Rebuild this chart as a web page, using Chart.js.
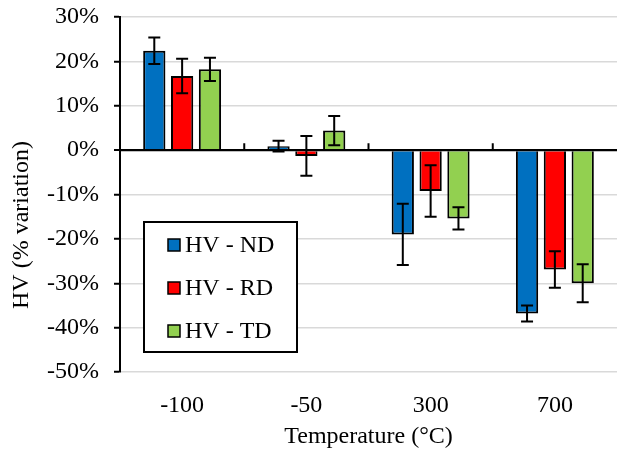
<!DOCTYPE html>
<html>
<head>
<meta charset="utf-8">
<script src="https://cdn.jsdelivr.net/npm/chart.js@4/dist/chart.umd.min.js"></script>
<style>
html,body{margin:0;padding:0;background:#fff;}
#wrap{width:617px;height:452px;position:relative;}
</style>
</head>
<body>
<div id="wrap"><canvas id="c" width="617" height="452"></canvas></div>
<script>
const categories = ["-100", "-50", "300", "700"];
const seriesNames = ["HV - ND", "HV - RD", "HV - TD"];
const hvND = [22.4, 0.9, -19.0, -36.8];
const hvRD = [16.7, -1.3, -9.2, -26.9];
const hvTD = [18.2, 4.4, -15.4, -30.0];
const errND = [3.0, 1.2, 6.9, 1.8];
const errRD = [3.9, 4.5, 5.8, 4.1];
const errTD = [2.6, 3.3, 2.5, 4.3];
const colors = ["#0070C0", "#FF0000", "#92D050"];
const yTicksMin = -50, yTicksMax = 30, yStep = 10;
const FONT = "'Liberation Serif', 'Times New Roman', serif";

const errs = [errND, errRD, errTD];

const errorBarPlugin = {
  id: 'errbars',
  afterDatasetsDraw(chart) {
    const ctx = chart.ctx;
    const y = chart.scales.y;
    const x = chart.scales.x;
    const ca = chart.chartArea;
    ctx.save();
    ctx.strokeStyle = '#000';
    ctx.lineWidth = 2;
    // zero axis line on top of bars
    const y0 = y.getPixelForValue(0);
    ctx.beginPath();
    ctx.moveTo(ca.left, y0); ctx.lineTo(ca.right, y0);
    ctx.stroke();
    chart.data.datasets.forEach((ds, di) => {
      const meta = chart.getDatasetMeta(di);
      meta.data.forEach((bar, i) => {
        const v = ds.data[i], e = errs[di][i];
        const yt = y.getPixelForValue(v + e), yb = y.getPixelForValue(v - e);
        ctx.beginPath();
        ctx.moveTo(bar.x, yt); ctx.lineTo(bar.x, yb);
        ctx.moveTo(bar.x - 6, yt); ctx.lineTo(bar.x + 6, yt);
        ctx.moveTo(bar.x - 6, yb); ctx.lineTo(bar.x + 6, yb);
        ctx.stroke();
      });
    });
    // category separator tick marks on zero axis
    ctx.beginPath();
    for (let i = 1; i < categories.length; i++) {
      const xm = (x.getPixelForValue(i - 1) + x.getPixelForValue(i)) / 2;
      ctx.moveTo(xm, y0 - 7); ctx.lineTo(xm, y0);
    }
    ctx.stroke();
    // legend
    const lx = 144, ly = 222, lw = 153, lh = 130;
    ctx.fillStyle = '#fff';
    ctx.fillRect(lx, ly, lw, lh);
    ctx.lineWidth = 2;
    ctx.strokeRect(lx, ly, lw, lh);
    ctx.font = "24px " + FONT;
    ctx.textBaseline = 'middle';
    ctx.textAlign = 'left';
    seriesNames.forEach((n, i) => {
      const cy = 245 + i * 43;
      ctx.fillStyle = colors[i];
      ctx.fillRect(168, cy - 6, 12, 12);
      ctx.lineWidth = 1.5;
      ctx.strokeRect(168, cy - 6, 12, 12);
      ctx.fillStyle = '#000';
      ctx.fillText(n, 185, cy + 1);
    });
    // y title
    ctx.save();
    ctx.translate(22, 225);
    ctx.rotate(-Math.PI / 2);
    ctx.textAlign = 'center';
    ctx.textBaseline = 'middle';
    ctx.fillStyle = '#000';
    ctx.font = "24px " + FONT;
    ctx.fillText("HV (% variation)", 0, 0);
    ctx.restore();
    ctx.restore();
  }
};

new Chart(document.getElementById('c'), {
  type: 'bar',
  data: {
    labels: categories,
    datasets: [hvND, hvRD, hvTD].map((d, i) => ({
      label: seriesNames[i],
      data: d,
      backgroundColor: colors[i],
      borderColor: '#000',
      borderWidth: 2,
      borderSkipped: 'start',
      categoryPercentage: 0.672,
      barPercentage: 0.8
    }))
  },
  options: {
    responsive: false,
    animation: false,
    devicePixelRatio: 1,
    layout: { padding: { top: 17, right: 0, left: 0, bottom: 0 } },
    plugins: { legend: { display: false }, tooltip: { enabled: false } },
    scales: {
      x: {
        grid: { display: false, drawTicks: false },
        border: { display: false },
        ticks: { color: '#000', font: { family: FONT, size: 24 }, padding: 19 },
        title: { display: true, text: 'Temperature (°C)', color: '#000', font: { family: FONT, size: 24 }, padding: { top: 0, bottom: 1 } },
        afterFit(s) { s.height = 80; s.paddingLeft = 0; s.paddingRight = 0; }
      },
      y: {
        min: yTicksMin, max: yTicksMax,
        ticks: { stepSize: yStep, color: '#000', font: { family: FONT, size: 24 }, padding: 15,
          callback: v => v + '%' },
        grid: {
          color: c => c.tick && c.tick.value === 0 ? '#000' : '#d9d9d9',
          lineWidth: c => c.tick && c.tick.value === 0 ? 2 : 1.5,
          tickColor: '#000', tickLength: 6, tickWidth: 2
        },
        border: { display: true, color: '#000', width: 2 },
        afterFit(s) { s.width = 120; s.paddingTop = 0; s.paddingBottom = 0; }
      }
    }
  },
  plugins: [errorBarPlugin]
});
</script>
</body>
</html>
